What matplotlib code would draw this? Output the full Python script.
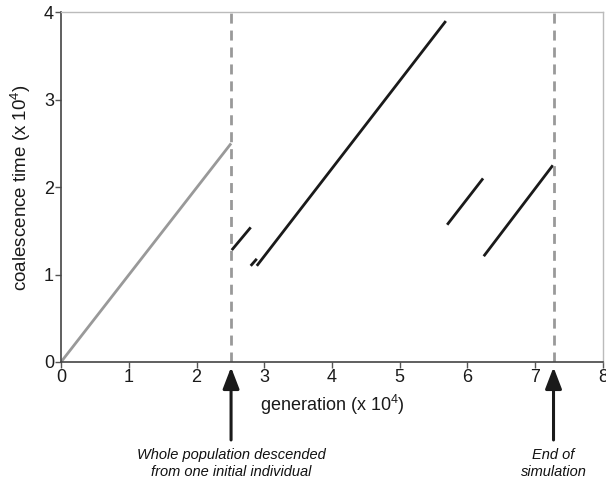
import matplotlib

matplotlib.use("Agg")

import matplotlib.pyplot as plt

plt.rcParams["font.family"] = ["Liberation Sans", "DejaVu Sans"]
plt.rcParams["mathtext.fontset"] = "custom"
plt.rcParams["mathtext.rm"] = "Liberation Sans"

# founder lineage (grey) and later lineages (black), in units of 10^4
founder_x = [0.0, 2.51]
founder_y = [0.0, 2.50]

seg_x0 = [2.52, 2.80, 2.89, 5.70, 6.24]
seg_x1 = [2.80, 2.89, 5.68, 6.23, 7.26]
seg_y0 = [1.28, 1.10, 1.10, 1.57, 1.21]
seg_y1 = [1.54, 1.18, 3.90, 2.10, 2.25]

event_x = [2.51, 7.27]
event_labels = [
    "Whole population descended\nfrom one initial individual",
    "End of\nsimulation",
]

x_ticks = [0, 1, 2, 3, 4, 5, 6, 7, 8]
y_ticks = [0, 1, 2, 3, 4]

fig = plt.figure(figsize=(6.06, 4.87), dpi=100)
ax = fig.add_axes([0.1007, 0.2567, 0.8943, 0.718])

ax.plot(founder_x, founder_y, color="#999999", lw=2, solid_capstyle="butt")
for x0, x1, y0, y1 in zip(seg_x0, seg_x1, seg_y0, seg_y1):
    ax.plot([x0, x1], [y0, y1], color="#1a1a1a", lw=2, solid_capstyle="butt")

for xv, label in zip(event_x, event_labels):
    ax.axvline(xv, color="#999999", lw=2, ls=(0, (3.6, 2.5)))
    ax.annotate(
        "", xy=(xv, -0.015), xycoords=("data", "axes fraction"),
        xytext=(xv, -0.223), textcoords=("data", "axes fraction"),
        arrowprops=dict(arrowstyle="-|>,head_length=1.3,head_width=0.5",
                        color="#1a1a1a", lw=2.2, shrinkA=0, shrinkB=0),
        annotation_clip=False,
    )
    ax.text(xv, -0.245, label, transform=ax.get_xaxis_transform(),
            ha="center", va="top", style="italic", fontsize=10.5,
            color="#111111", linespacing=1.3)

ax.set_xlim(0, 8)
ax.set_ylim(0, 4)
ax.set_xticks(x_ticks)
ax.set_yticks(y_ticks)
ax.tick_params(direction="out", length=4, width=1, color="#555555",
               labelsize=13, labelcolor="#1a1a1a", pad=1)

for side in ["left", "bottom"]:
    ax.spines[side].set_color("#444444")
    ax.spines[side].set_linewidth(1.2)
for side in ["top", "right"]:
    ax.spines[side].set_color("#bbbbbb")
    ax.spines[side].set_linewidth(1)

ax.set_xlabel("generation (x 10$^4$)", fontsize=13, color="#1a1a1a", labelpad=5)
ax.set_ylabel("coalescence time (x 10$^4$)", fontsize=13.5, color="#1a1a1a", labelpad=8)

fig.savefig("out.png", dpi=100)
